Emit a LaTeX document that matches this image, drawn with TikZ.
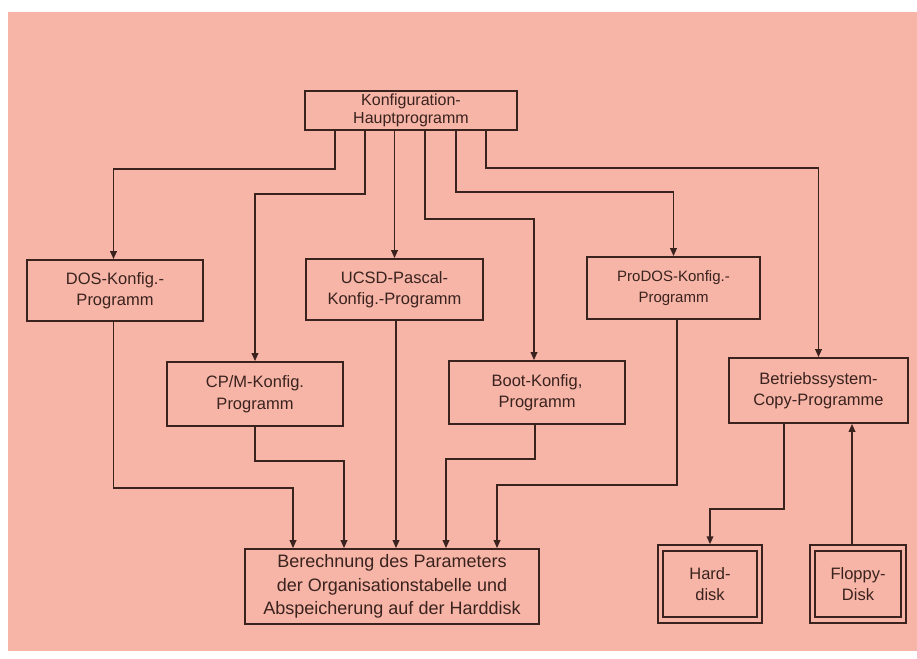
\documentclass[tikz,border=0pt]{standalone}
\usepackage{fontspec}
\setmainfont{Liberation Sans}
\usetikzlibrary{arrows.meta}
\definecolor{paper}{RGB}{246,181,167}
\definecolor{ink}{RGB}{58,34,30}
\begin{document}
\begin{tikzpicture}[x=1pt,y=-1pt,
  box/.style={draw=ink,line width=1.7pt,text=ink,align=center,inner sep=0pt,
    font=\fontsize{16.5}{21.5}\selectfont},
  arr/.style={draw=ink,line width=1.8pt,-{Triangle[width=6.5pt,length=8pt]}},
  ln/.style={draw=ink,line width=1.8pt}]
\useasboundingbox (0,0) rectangle (917,658);
\fill[white] (0,0) rectangle (917,658);
\fill[paper] (8,12) rectangle (917,651);

\node[box,minimum width=212pt,minimum height=39pt,font=\fontsize{16}{18}\selectfont] (top) at (411,110.5) {Konfiguration-\\Hauptprogramm};
\node[box,minimum width=176pt,minimum height=61pt] (dos) at (115,290.5) {DOS-Konfig.-\\Programm};
\node[box,minimum width=177pt,minimum height=61pt] (ucsd) at (394.5,289.5) {UCSD-Pascal-\\Konfig.-Programm};
\node[box,minimum width=173pt,minimum height=62pt,font=\fontsize{15}{21}\selectfont] (prodos) at (673.5,288) {ProDOS-Konfig.-\\Programm};
\node[box,minimum width=176pt,minimum height=64pt] (cpm) at (255,394) {CP/M-Konfig.\\Programm};
\node[box,minimum width=176pt,minimum height=63pt] (boot) at (537,392.5) {Boot-Konfig,\\Programm};
\node[box,minimum width=179pt,minimum height=65pt] (betr) at (818.5,390.5) {Betriebssystem-\\Copy-Programme};
\node[box,minimum width=294pt,minimum height=75pt,font=\fontsize{18}{23.5}\selectfont] (calc) at (392,586.5) {Berechnung des Parameters\\der Organisationstabelle und\\Abspeicherung auf der Harddisk};
\node[box,line width=1.5pt,minimum width=104pt,minimum height=78pt] (hard) at (710,584) {Hard-\\disk};
\node[box,line width=1.5pt,minimum width=96pt,minimum height=78pt] (floppy) at (858,584) {Floppy-\\Disk};
\draw[ln] ([shift={(6,7)}]hard.north west) rectangle ([shift={(-6,-7)}]hard.south east);
\draw[ln] ([shift={(6,7)}]floppy.north west) rectangle ([shift={(-6,-7)}]floppy.south east);

% from main program
\draw[arr] ([xshift=-76pt]top.south) -- ++(0,38) -| ([xshift=-1.5pt]dos.north);
\draw[arr] ([xshift=-46pt]top.south) -- ++(0,63) -| (cpm.north);
\draw[arr] (top.south -| ucsd.north) -- (ucsd.north);
\draw[arr] ([xshift=14pt]top.south) -- ++(0,88) -| ([xshift=-3pt]boot.north);
\draw[arr] ([xshift=45pt]top.south) -- ++(0,61) -| (prodos.north);
\draw[arr] ([xshift=75pt]top.south) -- ++(0,37) -| (betr.north);

% into calculation box
\draw[arr] ([xshift=-1.5pt]dos.south) -- ++(0,166) -| ([xshift=-99pt]calc.north);
\draw[arr] (cpm.south) -- ++(0,34) -| ([xshift=-48pt]calc.north);
\draw[arr] ([xshift=1.5pt]ucsd.south) coordinate (u) -- (u |- calc.north);
\draw[arr] ([xshift=-2pt]boot.south) -- ++(0,34) -| ([xshift=54pt]calc.north);
\draw[arr] ([xshift=3.5pt]prodos.south) -- ++(0,165) -| ([xshift=105pt]calc.north);

% copy programs
\draw[arr] ([xshift=-34.5pt]betr.south) -- ++(0,85) -| (hard.north);
\draw[arr] ([xshift=-6pt]floppy.north) coordinate (fl) -- (fl |- betr.south);
\end{tikzpicture}
\end{document}
